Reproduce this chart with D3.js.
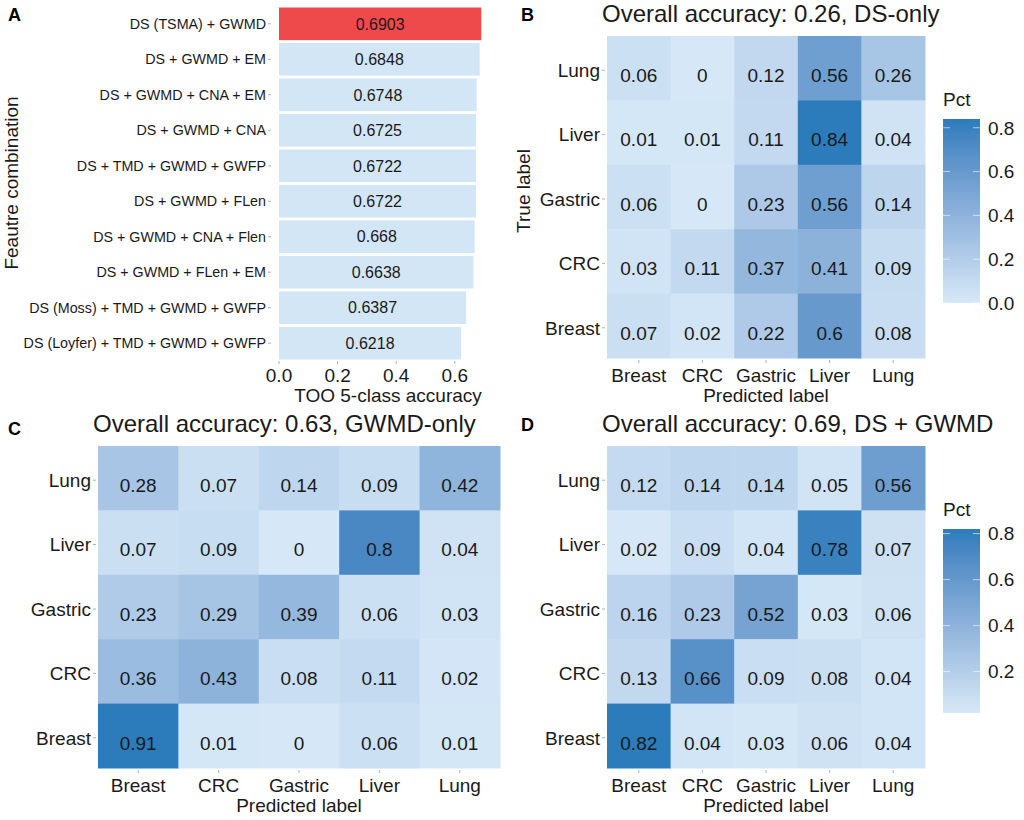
<!DOCTYPE html>
<html><head><meta charset="utf-8">
<script src="https://cdn.jsdelivr.net/npm/d3@7"></script>
<style>body{margin:0;background:#fff;} text{font-family:"Liberation Sans",Arial,sans-serif;}</style>
</head><body>
<svg id="c" width="1024" height="820"></svg>
<script>
// ---- Data ----
const featureCombos = ["DS (TSMA) + GWMD","DS + GWMD + EM","DS + GWMD + CNA + EM","DS + GWMD + CNA",
  "DS + TMD + GWMD + GWFP","DS + GWMD + FLen","DS + GWMD + CNA + Flen","DS + GWMD + FLen + EM",
  "DS (Moss) + TMD + GWMD + GWFP","DS (Loyfer) + TMD + GWMD + GWFP"];
const accuracy = [0.6903,0.6848,0.6748,0.6725,0.6722,0.6722,0.668,0.6638,0.6387,0.6218];
const accTicks = [0,0.2,0.4,0.6];
const predLabels = ["Breast","CRC","Gastric","Liver","Lung"];
const trueLabels = ["Lung","Liver","Gastric","CRC","Breast"]; // top to bottom
// rows follow trueLabels (top to bottom), columns follow predLabels
const matDS = [[0.06,0,0.12,0.56,0.26],[0.01,0.01,0.11,0.84,0.04],[0.06,0,0.23,0.56,0.14],[0.03,0.11,0.37,0.41,0.09],[0.07,0.02,0.22,0.6,0.08]];
const matGWMD = [[0.28,0.07,0.14,0.09,0.42],[0.07,0.09,0,0.8,0.04],[0.23,0.29,0.39,0.06,0.03],[0.36,0.43,0.08,0.11,0.02],[0.91,0.01,0,0.06,0.01]];
const matBoth = [[0.12,0.14,0.14,0.05,0.56],[0.02,0.09,0.04,0.78,0.07],[0.16,0.23,0.52,0.03,0.06],[0.13,0.66,0.09,0.08,0.04],[0.82,0.04,0.03,0.06,0.04]];
const legendTicksB = [0,0.2,0.4,0.6,0.8];
const legendTicksD = [0.2,0.4,0.6,0.8];

const svg = d3.select("#c");
const TXT = "#1a1a1a", TICK = "#b0b0b0";
const lowC = "#d6e8f7", highC = "#2c7cbc";

// ---- Panel A ----
const gA = svg.append("g");
const xA = d3.scaleLinear().domain([0,0.7]).range([279, 279+0.7*293]);
const yA = d3.scaleBand().domain(featureCombos).range([7.5,359.5]).paddingInner(0.08);
gA.selectAll("rect.bar").data(featureCombos).join("rect")
  .attr("x", xA(0)).attr("y", d=>yA(d)).attr("height", yA.bandwidth())
  .attr("width", (d,i)=>xA(accuracy[i])-xA(0))
  .attr("fill", (d,i)=> i===0 ? "#ef4a4b" : "#d3e6f6");
gA.selectAll("text.val").data(featureCombos).join("text")
  .attr("x",(d,i)=>xA(accuracy[i]/2)).attr("y",d=>yA(d)+yA.bandwidth()/2).attr("dy","0.36em")
  .attr("text-anchor","middle").attr("font-size",16).attr("fill",TXT)
  .text((d,i)=>String(accuracy[i]));
gA.selectAll("text.cat").data(featureCombos).join("text")
  .attr("x",266).attr("y",d=>yA(d)+yA.bandwidth()/2).attr("dy","0.36em")
  .attr("text-anchor","end").attr("font-size",14.3).attr("fill",TXT).text(d=>d);
gA.selectAll("line.yt").data(featureCombos).join("line")
  .attr("x1",268).attr("x2",271).attr("y1",d=>yA(d)+yA.bandwidth()/2).attr("y2",d=>yA(d)+yA.bandwidth()/2)
  .attr("stroke",TICK);
gA.selectAll("line.xt").data(accTicks).join("line")
  .attr("x1",d=>xA(d)).attr("x2",d=>xA(d)).attr("y1",361).attr("y2",364).attr("stroke",TICK);
gA.selectAll("text.xt").data(accTicks).join("text")
  .attr("x",d=>xA(d)).attr("y",382).attr("text-anchor","middle").attr("font-size",19).attr("fill",TXT)
  .text(d=>d3.format(".1f")(d));
gA.append("text").attr("x",388).attr("y",402).attr("text-anchor","middle").attr("font-size",19).attr("fill",TXT)
  .text("TOO 5-class accuracy");
gA.append("text").attr("transform","translate(18,183) rotate(-90)").attr("text-anchor","middle")
  .attr("font-size",19).attr("fill",TXT).text("Feautre combination");
svg.append("text").attr("x",8).attr("y",21).attr("font-size",18).attr("font-weight","bold").text("A");

// ---- Heatmaps ----
function heatmap(opt){
  const g = svg.append("g");
  const flat = opt.mat.flat();
  const ext = d3.extent(flat);
  const color = d3.scaleLinear().domain(ext).range([lowC, highC]).interpolate(d3.interpolateLab);
  const x = d3.scaleBand().domain(predLabels).range([opt.x0,opt.x1]);
  const y = d3.scaleBand().domain(trueLabels).range([opt.y0,opt.y1]);
  const cells = [];
  trueLabels.forEach((t,i)=>predLabels.forEach((p,j)=>cells.push({t,p,v:opt.mat[i][j]})));
  g.selectAll("rect").data(cells).join("rect")
    .attr("x",d=>x(d.p)).attr("y",d=>y(d.t)).attr("width",x.bandwidth()+0.5).attr("height",y.bandwidth()+0.5)
    .attr("fill",d=>color(d.v));
  g.selectAll("text.v").data(cells).join("text")
    .attr("x",d=>x(d.p)+x.bandwidth()/2).attr("y",d=>y(d.t)+y.bandwidth()/2+7).attr("dy","0.36em")
    .attr("text-anchor","middle").attr("font-size",19).attr("fill",TXT).text(d=>String(d.v));
  g.selectAll("text.yl").data(trueLabels).join("text")
    .attr("x",opt.x0-7).attr("y",d=>y(d)+y.bandwidth()/2+2).attr("dy","0.36em")
    .attr("text-anchor","end").attr("font-size",19).attr("fill",TXT).text(d=>d);
  g.selectAll("line.yt").data(trueLabels).join("line")
    .attr("x1",opt.x0-5).attr("x2",opt.x0-2).attr("y1",d=>y(d)+y.bandwidth()/2+2).attr("y2",d=>y(d)+y.bandwidth()/2+2).attr("stroke",TICK);
  g.selectAll("line.xt").data(predLabels).join("line")
    .attr("x1",d=>x(d)+x.bandwidth()/2).attr("x2",d=>x(d)+x.bandwidth()/2).attr("y1",opt.y1+2).attr("y2",opt.y1+5).attr("stroke",TICK);
  g.selectAll("text.xl").data(predLabels).join("text")
    .attr("x",d=>x(d)+x.bandwidth()/2).attr("y",opt.y1+24)
    .attr("text-anchor","middle").attr("font-size",19).attr("fill",TXT).text(d=>d);
  g.append("text").attr("x",(opt.x0+opt.x1)/2).attr("y",opt.y1+44).attr("text-anchor","middle")
    .attr("font-size",19).attr("fill",TXT).text("Predicted label");
  g.append("text").attr("x",opt.x0-5).attr("y",opt.y0-14).attr("font-size",24).attr("fill",TXT).text(opt.title);
  svg.append("text").attr("x",opt.lx).attr("y",opt.ly).attr("font-size",18).attr("font-weight","bold").text(opt.letter);
  if(opt.ylab){
    g.append("text").attr("transform",`translate(${opt.ylabX},${(opt.y0+opt.y1)/2-6}) rotate(-90)`)
      .attr("text-anchor","middle").attr("font-size",19).attr("fill",TXT).text(opt.ylab);
  }
  if(opt.legend){
    const L = opt.legend;
    const ly = d3.scaleLinear().domain(ext).range([L.y1,L.y0]);
    const gradId = "grad"+opt.letter;
    const grad = svg.append("defs").append("linearGradient").attr("id",gradId)
      .attr("x1",0).attr("y1",1).attr("x2",0).attr("y2",0);
    d3.range(0,1.0001,0.1).forEach(f=>{
      grad.append("stop").attr("offset",f).attr("stop-color",color(ext[0]+f*(ext[1]-ext[0])));
    });
    g.append("rect").attr("x",L.x).attr("y",L.y0).attr("width",37).attr("height",L.y1-L.y0).attr("fill",`url(#${gradId})`);
    g.selectAll("line.lt1").data(L.ticks).join("line").attr("x1",L.x).attr("x2",L.x+7)
      .attr("y1",d=>ly(d)).attr("y2",d=>ly(d)).attr("stroke","#fff").attr("stroke-opacity",0.6);
    g.selectAll("line.lt2").data(L.ticks).join("line").attr("x1",L.x+30).attr("x2",L.x+37)
      .attr("y1",d=>ly(d)).attr("y2",d=>ly(d)).attr("stroke","#fff").attr("stroke-opacity",0.6);
    g.selectAll("text.ll").data(L.ticks).join("text").attr("x",L.x+45).attr("y",d=>ly(d)).attr("dy","0.36em")
      .attr("font-size",19).attr("fill",TXT).text(d=>d3.format(".1f")(d));
    g.append("text").attr("x",L.x).attr("y",L.y0-13).attr("font-size",19).attr("fill",TXT).text("Pct");
  }
}
heatmap({mat:matDS,x0:607,x1:925,y0:36,y1:358,title:"Overall accuracy: 0.26, DS-only",letter:"B",lx:521,ly:21,
  ylab:"True label",ylabX:530,legend:{x:943,y0:119,y1:303,ticks:legendTicksB}});
heatmap({mat:matGWMD,x0:98,x1:500,y0:446,y1:768,title:"Overall accuracy: 0.63, GWMD-only",letter:"C",lx:8,ly:435});
heatmap({mat:matBoth,x0:607,x1:925,y0:446,y1:768,title:"Overall accuracy: 0.69, DS + GWMD",letter:"D",lx:521,ly:431,
  legend:{x:943,y0:529,y1:713,ticks:legendTicksD}});
</script>
</body></html>
